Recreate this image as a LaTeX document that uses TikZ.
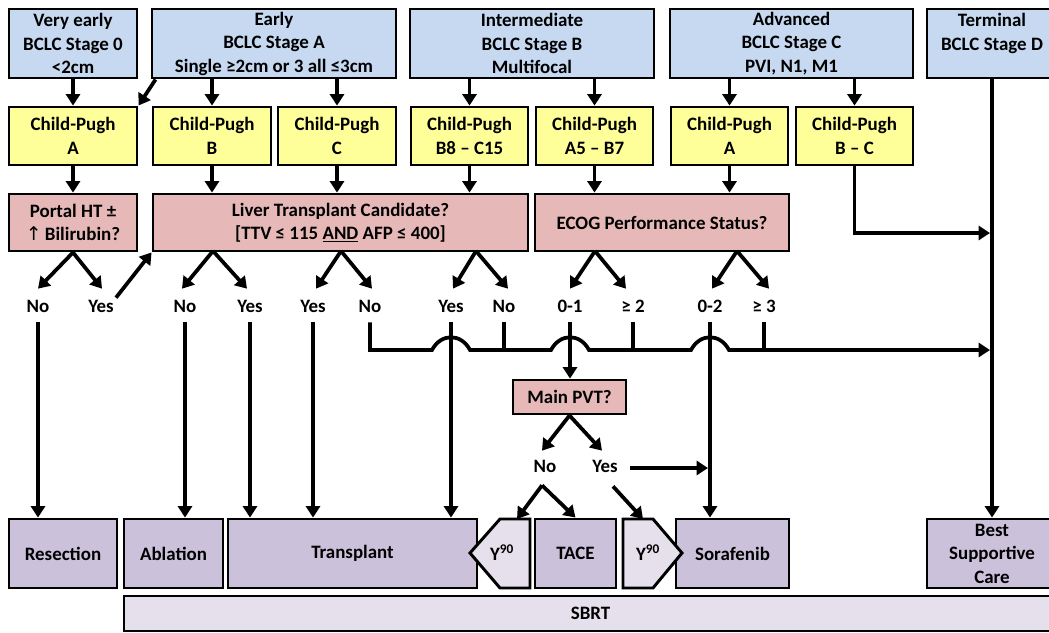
\documentclass[tikz,border=0pt]{standalone}
\usepackage{fontspec}
\setmainfont{Carlito}
\newfontfamily\symfont{DejaVu Sans}
\usetikzlibrary{arrows.meta,calc}
\definecolor{stageblue}{HTML}{C6D9F1}
\definecolor{cpyellow}{HTML}{FFFF99}
\definecolor{qpink}{HTML}{E6B9B8}
\definecolor{txpurple}{HTML}{CCC1DA}
\definecolor{txlight}{HTML}{E5E0EC}
\begin{document}
\begin{tikzpicture}[x=0.75pt,y=-0.75pt,
  every node/.style={font=\fontsize{14.2}{17.6}\selectfont\bfseries, text=black},
  box/.style={draw, line width=2.2pt, inner sep=0pt, align=center},
  bx/.style 2 args={minimum width=#1*0.75pt, minimum height=#2*0.75pt},
  stagebox/.style={box, fill=stageblue},
  cpbox/.style={box, fill=cpyellow},
  qbox/.style={box, fill=qpink},
  txbox/.style={box, fill=txpurple},
  lbl/.style={inner sep=0pt, text height=9.1pt, text depth=0pt},
  conn/.style={line width=2.8pt},
  arr/.style={conn, -{Triangle[length=8.5pt,width=10.5pt]}}
]
\useasboundingbox (0,0) rectangle (1049,632);
\fill[white] (0,0) rectangle (1049,632);
\clip (0,0) rectangle (1049,632);

% stages
\node[stagebox, bx={128}{69}] (s0) at (73,43.5) {Very early\\BCLC Stage 0\\<2cm};
\node[stagebox, bx={244}{69}] (sA) at (274,43.5) {Early\\BCLC Stage A\\Single ≥2cm or 3 all ≤3cm};
\node[stagebox, bx={244}{69}] (sB) at (532,43.5) {Intermediate\\BCLC Stage B\\Multifocal};
\node[stagebox, bx={243}{69}] (sC) at (791.5,43.5) {Advanced\\BCLC Stage C\\PVI, N1, M1};
\node[stagebox, bx={130}{69}] (sD) at (992,43.5) {Terminal\\BCLC Stage D\\\mbox{}};

% Child-Pugh classes
\node[cpbox, bx={128}{58}] (cpa) at (73,136) {Child-Pugh\\A};
\node[cpbox, bx={118}{58}] (cpb) at (212,136) {Child-Pugh\\B};
\node[cpbox, bx={118}{58}] (cpc) at (337,136) {Child-Pugh\\C};
\node[cpbox, bx={117}{58}] (cpb8) at (469.5,136) {Child-Pugh\\B8 – C15};
\node[cpbox, bx={117}{58}] (cpa5) at (594.5,136) {Child-Pugh\\A5 – B7};
\node[cpbox, bx={117}{58}] (cpaa) at (729.5,136) {Child-Pugh\\A};
\node[cpbox, bx={117}{58}] (cpbc) at (854.5,136) {Child-Pugh\\B – C};

% questions
\node[qbox, bx={128}{57}] (portal) at (73,222.5) {Portal HT ±\\{\symfont\mdseries ↑}\,Bilirubin?};
\node[qbox, bx={375}{57}] (liver) at (340.5,222.5) {Liver Transplant Candidate?\\{}[TTV ≤ 115 \underline{AND} AFP ≤ 400]};
\node[qbox, bx={254}{57}] (ecog) at (662,222.5) {ECOG Performance Status?};
\node[qbox, bx={113}{34}] (pvt) at (569.5,397) {Main PVT?};

% treatments
\node[txbox, bx={108}{69}] (resec) at (63,553.5) {Resection};
\node[txbox, bx={99}{69}] (abl) at (173.5,553.5) {Ablation};
\node[txbox, bx={249}{69}] (trans) at (352.5,553.5) {Transplant};
\node[txbox, bx={81}{69}] (tace) at (575.5,553.5) {TACE};
\node[txbox, bx={113}{69}] (sora) at (732.5,553.5) {Sorafenib};
\node[txbox, bx={130}{69}] (bsc) at (992,553.5) {Best\\Supportive\\Care};
\node[box, fill=txlight, bx={933}{35}] (sbrt) at (590.5,613.5) {SBRT};

% Y90 arrow-shaped boxes
\filldraw[fill=txlight, line width=2.2pt, line join=miter]
  (470,553) -- (500,519) -- (530,519) -- (530,588) -- (500,588) -- cycle;
\node (y90l) at (502,553) {Y\textsuperscript{90}};
\coordinate (y90l-n) at (517,519);
\filldraw[fill=txlight, line width=2.2pt, line join=miter]
  (623,519) -- (653,519) -- (682,553) -- (653,588) -- (623,588) -- cycle;
\node (y90r) at (648,553) {Y\textsuperscript{90}};
\coordinate (y90r-n) at (643,519);

% branch labels
\node[lbl] (pno) at (38,306) {No};
\node[lbl] (pyes) at (101,306) {Yes};
\node[lbl] (lno1) at (185,306) {No};
\node[lbl] (lyes1) at (250,306) {Yes};
\node[lbl] (lyes2) at (313,306) {Yes};
\node[lbl] (lno2) at (370,306) {No};
\node[lbl] (lyes3) at (451,306) {Yes};
\node[lbl] (lno3) at (504,306) {No};
\node[lbl] (e01) at (570,306) {0-1};
\node[lbl] (e2) at (633,306) {≥ 2};
\node[lbl] (e02) at (710,306) {0-2};
\node[lbl] (e3) at (764,306) {≥ 3};
\node[lbl] (pvno) at (545,466) {No};
\node[lbl] (pvyes) at (605,466) {Yes};

\coordinate (bcy) at (0,233);
\coordinate (bus) at (0,350);
\coordinate (lv1) at (213,251);
\coordinate (lv2) at (341,251);
\coordinate (lv3) at (476,251);
\coordinate (ec1) at (595,251);
\coordinate (ec2) at (737,251);

% stage -> Child-Pugh
\draw[arr] (s0.south) -- (cpa.north);
\draw[arr] ($(sA.south west)+(5,0)$) -- (cpa.north east);
\draw[arr] (cpb |- sA.south) -- (cpb.north);
\draw[arr] (cpc |- sA.south) -- (cpc.north);
\draw[arr] (cpb8 |- sB.south) -- (cpb8.north);
\draw[arr] (cpa5 |- sB.south) -- (cpa5.north);
\draw[arr] (cpaa |- sC.south) -- (cpaa.north);
\draw[arr] (cpbc |- sC.south) -- (cpbc.north);

% Child-Pugh -> questions
\draw[arr] (cpa.south) -- (portal.north);
\draw[arr] (cpb.south) -- (cpb |- liver.north);
\draw[arr] (cpc.south) -- (cpc |- liver.north);
\draw[arr] (cpb8.south) -- (cpb8 |- liver.north);
\draw[arr] (cpa5.south) -- (cpa5 |- ecog.north);
\draw[arr] (cpaa.south) -- (cpaa |- ecog.north);
\draw[arr, shorten >=1.5pt] (cpbc.south) |- (sD |- bcy);
\draw[arr] (sD.south) -- (bsc.north);

% question branches
\draw[arr] (portal.south) -- ($(pno.north)+(0,-11)$);
\draw[arr] (portal.south) -- ($(pyes.north)+(1,-11)$);
\draw[arr] (lv1) -- ($(lno1.north)+(-3,-11)$);
\draw[arr] (lv1) -- ($(lyes1.north)+(-3,-11)$);
\draw[arr] (lv2) -- ($(lyes2.north)+(3,-11)$);
\draw[arr] (lv2) -- ($(lno2.north)+(2,-11)$);
\draw[arr] (lv3) -- ($(lyes3.north)+(2,-11)$);
\draw[arr] (lv3) -- ($(lno3.north)+(4,-11)$);
\draw[arr] (ec1) -- ($(e01.north)+(0,-11)$);
\draw[arr] (ec1) -- ($(e2.north)+(-7,-11)$);
\draw[arr] (ec2) -- ($(e02.north)+(2,-11)$);
\draw[arr] (ec2) -- ($(e3.north)+(5,-11)$);
\draw[arr] ($(pyes.north east)+(2,-2)$) -- (liver.south west);

% answers -> treatments
\draw[arr] ($(pno.south)+(0,10)$) -- (pno |- resec.north);
\draw[arr] ($(lno1.south)+(0,10)$) -- (lno1 |- abl.north);
\draw[arr] ($(lyes1.south)+(0,10)$) -- (lyes1 |- trans.north);
\draw[arr] ($(lyes2.south)+(0,10)$) -- (lyes2 |- trans.north);
\draw[arr] ($(lyes3.south)+(0,10)$) -- (lyes3 |- trans.north);
\draw[arr] ($(e01.south)+(0,10)$) -- (e01 |- pvt.north);
\draw[arr] ($(e02.south)+(0,10)$) -- (e02 |- sora.north);

% collector line to best supportive care, hopping over crossings
\draw[conn] ($(lno3.south)+(0,10)$) -- (lno3 |- bus);
\draw[conn] ($(e2.south)+(0,10)$) -- (e2 |- bus);
\draw[conn] ($(e3.south)+(0,10)$) -- (e3 |- bus);
\draw[arr, shorten >=1.5pt] ($(lno2.south)+(0,10)$) |- (432,350)
  .. controls (441,333) and (461,333) .. (470,350) -- (551,350)
  .. controls (560,333) and (580,333) .. (589,350) -- (691,350)
  .. controls (700,333) and (720,333) .. (729,350) -- (sD |- bus);

% main PVT branches
\draw[arr] (pvt.south) -- ($(pvno.north)+(-3,-9)$);
\draw[arr] (pvt.south) -- ($(pvyes.north)+(-3,-9)$);
\coordinate (nsplit) at ($(pvno.south)+(-3,13)$);
\draw[arr] (nsplit) -- (y90l-n);
\draw[arr] (nsplit) -- (tace.north);
\draw[arr] ($(pvyes.south)+(8,14)$) -- (y90r-n);
\coordinate (ya) at ($(pvyes.east)+(12,2)$);
\draw[arr, shorten >=1.5pt] (ya) -- (e02 |- ya);
\end{tikzpicture}
\end{document}
